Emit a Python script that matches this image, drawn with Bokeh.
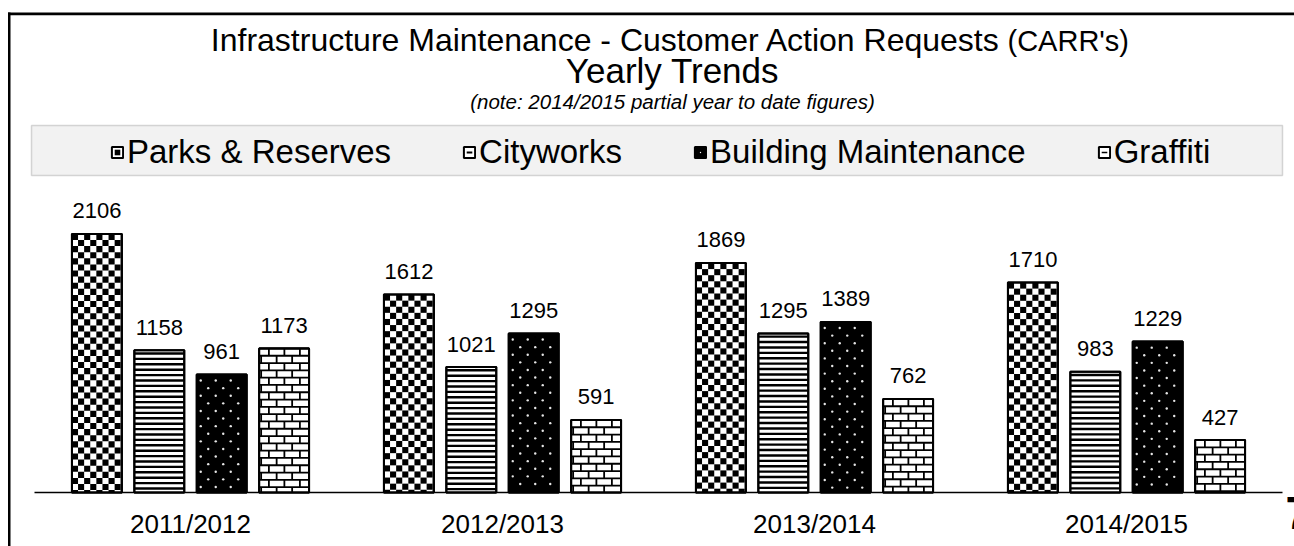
import numpy as np
from bokeh.plotting import figure
from bokeh.models import (ColumnDataSource, Range1d, Label, Legend, LegendItem,
                          BoxAnnotation)
from bokeh.core.properties import value
from bokeh.embed import file_html
from bokeh.resources import INLINE

# ---------------- data ----------------
categories = ["2011/2012", "2012/2013", "2013/2014", "2014/2015"]
series_names = ["Parks & Reserves", "Cityworks", "Building Maintenance", "Graffiti"]
parks = [2106, 1612, 1869, 1710]
cityworks = [1158, 1021, 1295, 983]
building = [961, 1295, 1389, 1229]
graffiti = [1173, 591, 762, 427]
series_values = [parks, cityworks, building, graffiti]

# ---------------- layout constants ----------------
FONT = "Liberation Sans"
W, H = 1294, 546
PX = 0.1228          # pixels per request
ZERO_Y = 492         # page y of the zero line
SLOT = 312           # px per year group
C0 = 190             # page x of first group centre
HALF = 0.08          # half bar width (group units)

UX = 1.0 / SLOT      # data units per pixel, x
UY = 1.0 / PX        # data units per pixel, y

p = figure(width=W, height=H, output_backend="svg", toolbar_location=None,
           x_range=Range1d(-C0 / SLOT, (W - C0) / SLOT),
           y_range=Range1d(-(H - ZERO_Y) / PX, ZERO_Y / PX),
           x_axis_location=None, y_axis_location=None,
           min_border=0, outline_line_color=None,
           background_fill_color="white", border_fill_color="white")
p.grid.visible = False


def sbox(left, right, bottom, top, **kw):
    return BoxAnnotation(left=left, right=right, bottom=bottom, top=top,
                         left_units="screen", right_units="screen",
                         bottom_units="screen", top_units="screen",
                         level="underlay", **kw)


# ---------------- page frame (document border) ----------------
p.add_layout(sbox(7.5, 10, 0, 534, fill_color="black", fill_alpha=1, line_color=None))
p.add_layout(sbox(7.5, W, 531.3, 534, fill_color="black", fill_alpha=1, line_color=None))
# legend background box
p.add_layout(sbox(31, 1282, 371, 421, fill_color="#f2f2f2", fill_alpha=1,
                  line_color="#7f7f7f", line_width=1.5))

# ---------------- baseline ----------------
n = len(categories)
p.segment(x0=[-0.5], x1=[n - 0.5], y0=[0], y1=[0], line_color="black", line_width=1.5)


# ---------------- pattern geometry (derived from bar values) ----------------
def checker(xs, tops, cell=6.1):
    d = dict(left=[], right=[], bottom=[], top=[])
    cx, cy = cell * UX, cell * UY
    for xc, t in zip(xs, tops):
        x0, x1 = xc - HALF, xc + HALF
        ncol = int(np.ceil((x1 - x0) / cx))
        nrow = int(np.ceil(t / cy))
        for k in range(nrow):
            for i in range(ncol):
                if (i + k) % 2:
                    continue
                l = x0 + i * cx
                b = t - (k + 1) * cy
                d["left"].append(l)
                d["right"].append(min(l + cx, x1))
                d["bottom"].append(max(b, 0))
                d["top"].append(b + cy)
    return d


def hlines(xs, tops, period=5.4, thick=2.4):
    d = dict(left=[], right=[], bottom=[], top=[])
    for xc, t in zip(xs, tops):
        nrow = int(np.ceil(t / (period * UY)))
        for k in range(nrow):
            tp = t - (k * period + 2.0) * UY
            b = tp - thick * UY
            if tp <= 0:
                continue
            d["left"].append(xc - HALF)
            d["right"].append(xc + HALF)
            d["bottom"].append(max(b, 0))
            d["top"].append(tp)
    return d


def dots(xs, tops, dx=15.0, dy=7.6):
    d = dict(x=[], y=[])
    for xc, t in zip(xs, tops):
        nrow = int(t / (dy * UY))
        for k in range(nrow):
            y = t - (k + 0.8) * dy * UY
            if y < 2 * UY:
                continue
            off = (4.0 if k % 2 == 0 else 11.5)
            xpos = xc - HALF + off * UX
            while xpos < xc + HALF - 2.5 * UX:
                d["x"].append(xpos)
                d["y"].append(y)
                xpos += dx * UX
    return d


def bricks(xs, tops, bw=15.5, bh=7.3):
    d = dict(x0=[], x1=[], y0=[], y1=[])
    for xc, t in zip(xs, tops):
        x0, x1 = xc - HALF, xc + HALF
        nrow = int(np.ceil(t / (bh * UY)))
        for k in range(nrow):
            ytop = t - k * bh * UY
            ybot = max(ytop - bh * UY, 0)
            # horizontal mortar line
            d["x0"].append(x0); d["x1"].append(x1)
            d["y0"].append(ytop); d["y1"].append(ytop)
            # vertical joints
            off = (bw / 2 + 2) if k % 2 == 0 else 2.0
            xj = x0 + off * UX
            while xj < x1 - 1.5 * UX:
                d["x0"].append(xj); d["x1"].append(xj)
                d["y0"].append(ytop); d["y1"].append(ybot)
                xj += bw * UX
    return d


# ---------------- bars ----------------
idx = np.arange(n)
fills = ["white", "white", "black", "white"]
legend_marks = [
    dict(marker="square", fill_color="black", line_color=None),
    dict(marker="dash", fill_color=None, line_color="black", line_width=2),
    dict(marker="dot", fill_color="white", line_color="white", line_width=1.5),
    dict(marker="dash", fill_color=None, line_color="black", line_width=1.5),
]
legend_items = []
for j, vals in enumerate(series_values):
    xs = idx + (j - 1.5) * 0.2
    src = ColumnDataSource(dict(x=xs, top=vals, label=[str(v) for v in vals]))
    r = p.vbar(x="x", top="top", width=2 * HALF, source=src,
               fill_color=fills[j], line_color="black", line_width=2)
    if j == 0:
        p.quad(source=ColumnDataSource(checker(xs, vals)), left="left", right="right",
               bottom="bottom", top="top", fill_color="black", line_color=None)
    elif j == 1:
        p.quad(source=ColumnDataSource(hlines(xs, vals)), left="left", right="right",
               bottom="bottom", top="top", fill_color="black", line_color=None)
    elif j == 2:
        p.scatter(source=ColumnDataSource(dots(xs, vals)), x="x", y="y", size=2.4,
                  marker="circle", fill_color="#e6e6e6", line_color=None)
    else:
        p.segment(source=ColumnDataSource(bricks(xs, vals)), x0="x0", x1="x1",
                  y0="y0", y1="y1", line_color="black", line_width=1.8)
    # outline on top of the pattern
    p.vbar(x="x", top="top", width=2 * HALF, source=src,
           fill_color=None, line_color="black", line_width=2)
    # value labels
    p.text(x="x", y="top", text="label", source=src,
           text_font=value(FONT), text_font_size="22px", text_color="black",
           text_align="center", text_baseline="middle", y_offset=-23)
    # legend-only marker (no visible point in the plot)
    m = p.scatter(x=[np.nan], y=[np.nan], size=5, **legend_marks[j])
    legend_items.append(LegendItem(label=series_names[j], renderers=[r, m]))

# category labels
cat_src = ColumnDataSource(dict(x=idx, y=[0] * n, text=categories))
p.text(x="x", y="y", text="text", source=cat_src, text_font=value(FONT),
       text_font_size="26px", text_color="black", text_align="center",
       text_baseline="middle", y_offset=31.5)


# ---------------- titles ----------------
def lab(x, page_y, text, size, align="center", style="normal"):
    p.add_layout(Label(x=x, y=H - page_y, x_units="screen", y_units="screen", text=text,
                       text_font=FONT, text_font_size=size, text_align=align,
                       text_baseline="middle", text_font_style=style,
                       text_color="black"))


lab(1000, 39, "Infrastructure Maintenance - Customer Action Requests", "32px", align="right")
lab(1007, 40, "(CARR's)", "29px", align="left")
lab(672, 70, "Yearly Trends", "35px")
lab(672, 101, "(note: 2014/2015 partial year to date figures)", "20.5px", style="italic")
lab(1285, 512, "7", "46px", align="left", style="bold")

# ---------------- legend ----------------
legend = Legend(items=legend_items, orientation="horizontal",
                location=(110, H - 171), padding=0, margin=0,
                spacing=71, glyph_width=14, glyph_height=14, label_standoff=3,
                label_text_font=FONT, label_text_font_size="33px",
                label_text_color="black",
                background_fill_alpha=0, border_line_color=None)
p.add_layout(legend)

open("out.html", "w").write(file_html(p, INLINE))
